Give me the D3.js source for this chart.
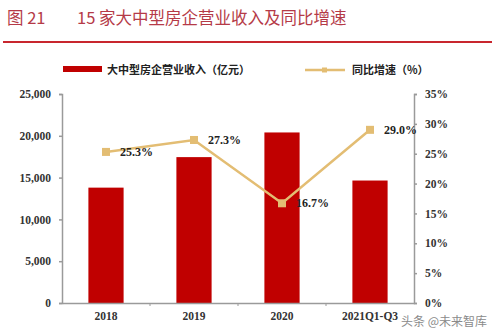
<!DOCTYPE html>
<html><head><meta charset="utf-8">
<script src="https://cdn.jsdelivr.net/npm/d3@7"></script>
<style>body{margin:0;background:#fff}svg{display:block}</style>
</head><body>
<script>
const categories = ["2018", "2019", "2020", "2021Q1-Q3"];
const revenue = [13800, 17450, 20400, 14650];
const growth = [25.3, 27.3, 16.7, 29.0];
const leftTicks = [0, 5000, 10000, 15000, 20000, 25000];
const rightTicks = [0, 5, 10, 15, 20, 25, 30, 35];
const titleNum = "图 21";
const titleText = "15 家大中型房企营业收入及同比增速";
const legendBar = "大中型房企营业收入（亿元）";
const legendLine = "同比增速（%）";
const watermark = "头条 @未来智库";

(function () {
const W = 500, H = 335;
const svg = d3.select("body").append("svg").attr("width", W).attr("height", H);
const pL = 62, pR = 414, pT = 94, pB = 303;
const red = "#C00000", gold = "#E3BD73", axisCol = "#9a9a9a", txt = "#333";
const serif = "'Liberation Serif','Times New Roman',serif";
const cjk = "'Noto Sans CJK SC',sans-serif";

// Title
svg.append("text").attr("x", 7).attr("y", 24).attr("fill", "#B53A47")
  .style("font-family", cjk).style("font-size", "16.5px").text(titleNum);
svg.append("text").attr("x", 77).attr("y", 24).attr("fill", "#B53A47")
  .style("font-family", cjk).style("font-size", "16.5px").text(titleText);
svg.append("line").attr("x1", 3).attr("x2", 492).attr("y1", 42).attr("y2", 42)
  .attr("stroke", "#C8262E").attr("stroke-width", 2);

const x = d3.scaleBand().domain(categories).range([pL, pR]).paddingInner(0.6).paddingOuter(0.3);
const xb = d3.scaleBand().domain(categories).range([pL, pR]);
const yL = d3.scaleLinear().domain([0, 25000]).range([pB, pT]);
const yR = d3.scaleLinear().domain([0, 35]).range([pB, pT]);

// Legend
svg.append("rect").attr("x", 63).attr("y", 66).attr("width", 39).attr("height", 6).attr("fill", red);
svg.append("text").attr("x", 107).attr("y", 74).attr("fill", "#222")
  .style("font-family", cjk).style("font-size", "11px").style("font-weight", "bold").text(legendBar);
svg.append("line").attr("x1", 305).attr("x2", 345).attr("y1", 70).attr("y2", 70).attr("stroke", gold).attr("stroke-width", 2.5);
svg.append("rect").attr("x", 322).attr("y", 67.5).attr("width", 5).attr("height", 5).attr("fill", gold);
svg.append("text").attr("x", 352).attr("y", 74).attr("fill", "#222")
  .style("font-family", cjk).style("font-size", "11px").style("font-weight", "bold").text(legendLine);

// Bars
svg.selectAll("rect.bar").data(categories).enter().append("rect").attr("class", "bar")
  .attr("x", d => x(d)).attr("width", x.bandwidth())
  .attr("y", (d, i) => yL(revenue[i])).attr("height", (d, i) => pB - yL(revenue[i]))
  .attr("fill", red);

// Axes
const axL = svg.append("g").attr("transform", `translate(${pL},0)`)
  .call(d3.axisLeft(yL).tickValues(leftTicks).tickSize(3).tickPadding(8).tickFormat(d3.format(",")));
const axR = svg.append("g").attr("transform", `translate(${pR},0)`)
  .call(d3.axisRight(yR).tickValues(rightTicks).tickSize(3).tickPadding(8).tickFormat(d => d + "%"));
const axB = svg.append("g").attr("transform", `translate(0,${pB})`)
  .call(d3.axisBottom(xb).tickSize(0).tickPadding(9));
svg.selectAll("line.xt").data(categories.slice(1)).enter().append("line").attr("class", "xt")
  .attr("x1", d => xb(d)).attr("x2", d => xb(d)).attr("y1", pB).attr("y2", pB + 3)
  .attr("stroke", axisCol);
[axL, axR, axB].forEach(g => {
  g.selectAll("path,line").attr("stroke", axisCol).attr("stroke-width", 1.5);
  g.selectAll("text").attr("fill", txt).style("font-family", serif)
    .style("font-size", "11.5px").style("font-weight", "bold");
});

// Line
const cx = d => x(d) + x.bandwidth() / 2;
const line = d3.line().x((d, i) => cx(categories[i])).y(d => yR(d));
svg.append("path").datum(growth).attr("d", line).attr("fill", "none")
  .attr("stroke", gold).attr("stroke-width", 2.5);
svg.selectAll("rect.mk").data(growth).enter().append("rect").attr("class", "mk")
  .attr("x", (d, i) => cx(categories[i]) - 4).attr("y", d => yR(d) - 4)
  .attr("width", 8).attr("height", 8).attr("fill", gold);
svg.selectAll("text.lbl").data(growth).enter().append("text").attr("class", "lbl")
  .attr("x", (d, i) => cx(categories[i]) + 14).attr("y", d => yR(d) + 4)
  .attr("fill", "#222").style("font-family", serif).style("font-size", "12px").style("font-weight", "bold")
  .text(d => d.toFixed(1) + "%");

// Watermark
svg.append("text").attr("x", 401).attr("y", 326).attr("fill", "#8a8a8a")
  .style("font-family", cjk).style("font-size", "12px").text(watermark);
})();
</script>
</body></html>
